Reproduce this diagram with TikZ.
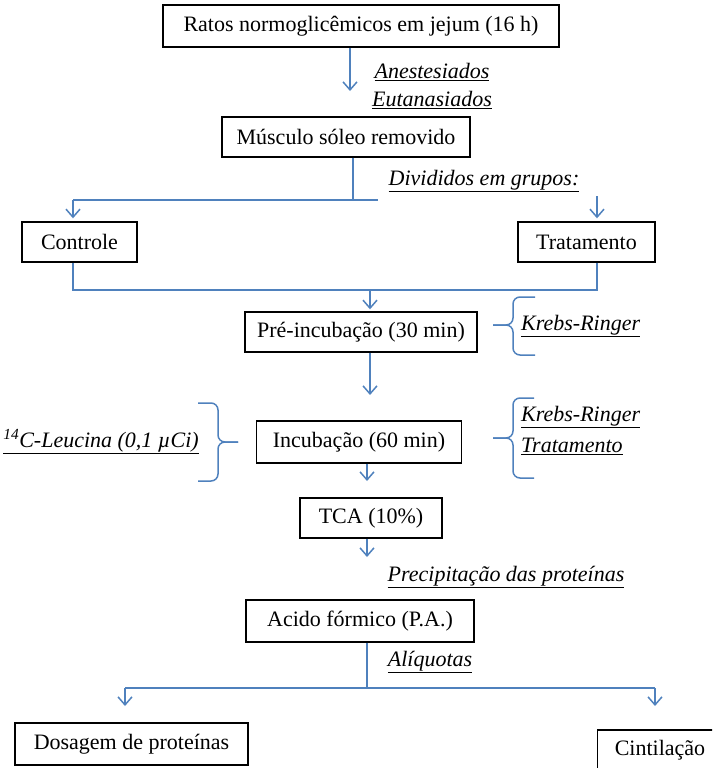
\documentclass[tikz,border=0pt]{standalone}
\usepackage{fontspec}
\setmainfont{Liberation Serif}
\usetikzlibrary{arrows.meta}
\definecolor{flowblue}{RGB}{79,129,189}
\tikzset{
  box/.style={draw=black, line width=1.4pt, fill=white, inner sep=0pt,
    font=\fontsize{22}{26}\selectfont},
  note/.style={inner sep=1pt, font=\fontsize{22}{26}\selectfont\itshape},
  wire/.style={draw=flowblue, line width=1.5pt},
  arr/.style={wire, -{Straight Barb[length=8pt,width=14pt,line width=1.5pt]}},
  brc/.style={wire, rounded corners=7pt},
}
\newcommand{\ulbl}[1]{\underline{#1}}
\begin{document}
\begin{tikzpicture}[x=1pt,y=-1pt]
\useasboundingbox (0,0) rectangle (712,768);
\clip (0,0) rectangle (712,768);

% process boxes
\node[box, minimum width=396pt, minimum height=42pt] (ratos) at (361,26) {Ratos normoglicêmicos em jejum (16 h)};
\node[box, minimum width=248pt, minimum height=40pt] (musculo) at (346,137) {Músculo sóleo removido};
\node[box, minimum width=115pt, minimum height=40pt] (controle) at (79.5,242) {Controle};
\node[box, minimum width=137pt, minimum height=40pt] (tratamento) at (586.5,242) {Tratamento};
\node[box, minimum width=232pt, minimum height=40pt] (pre) at (361,332) {Pré-incubação (30 min)};
\node[box, minimum width=205pt, minimum height=42pt] (incub) at (359,442) {Incubação (60 min)};
\node[box, minimum width=142pt, minimum height=40pt] (tca) at (371,518) {TCA (10\%)};
\node[box, minimum width=228pt, minimum height=42pt] (acido) at (360,621) {Acido fórmico (P.A.)};
\node[box, minimum width=233pt, minimum height=42pt] (dosagem) at (131.5,744) {Dosagem de proteínas};
\node[box, minimum width=125pt, minimum height=40pt] (cintil) at (660,750) {Cintilação};

% side notes
\node[note] (anest) at (432,72) {\ulbl{Anestesiados}};
\node[note] (eutan) at (432,100) {\ulbl{Eutanasiados}};
\node[note] (divid) at (484,181) {\ulbl{Divididos em grupos:}};
\node[note, anchor=west] (kr1) at (520,326) {\ulbl{Krebs-Ringer}};
\node[note, anchor=west] (kr2) at (520,417) {\ulbl{Krebs-Ringer}};
\node[note, anchor=west] (trat2) at (520,446) {\ulbl{Tratamento}};
\node[note, anchor=east] (leuc) at (200,442) {\ulbl{\textsuperscript{14}C-Leucina (0,1 µCi)}};
\node[note] (precip) at (506,577) {\ulbl{Precipitação das proteínas}};
\node[note] (aliq) at (430,662) {\ulbl{Alíquotas}};

% connectors
\coordinate (a1) at (350,91);
\draw[arr] (ratos.south -| a1) -- (a1);

\coordinate (split) at (353,200);
\coordinate (splitend) at (378,200);
\coordinate (c1) at (73,200);
\draw[wire] (musculo.south -| split) -- (split);
\draw[wire] (c1) -- (splitend);
\draw[arr, shorten >=3pt] (c1) -- (controle.north -| c1);
\coordinate (t1) at (597,196);
\draw[arr, shorten >=3pt] (t1) -- (tratamento.north -| t1);

\coordinate (join) at (370,290);
\draw[wire] (controle.south -| c1) |- (join);
\draw[wire] (tratamento.south -| t1) |- (join);
\draw[arr, shorten >=2pt] (join) -- (pre.north -| join);

\coordinate (a2) at (370,395);
\draw[arr] (pre.south -| a2) -- (a2);
\coordinate (a3) at (367,481);
\draw[arr] (incub.south -| a3) -- (a3);
\coordinate (a4) at (367,557);
\draw[arr] (tca.south -| a4) -- (a4);

\coordinate (fork) at (367,688);
\coordinate (d1) at (125,688);
\coordinate (d2) at (655,688);
\draw[wire] (acido.south -| fork) -- (fork);
\draw[wire] (d1) -- (d2);
\draw[arr] (d1) -- (125,706);
\draw[arr] (d2) -- (655,706);

% braces (two halves each, meeting at the tip)
\draw[brc] (535,297) -- (513,297) -- (513,325) -- (493,325);
\draw[brc] (493,325) -- (513,325) -- (513,355) -- (535,355);
\draw[brc] (198,403) -- (218,403) -- (218,442) -- (238,442);
\draw[brc] (238,442) -- (218,442) -- (218,481) -- (198,481);
\draw[brc] (534,398) -- (513,398) -- (513,438) -- (493,438);
\draw[brc] (493,438) -- (513,438) -- (513,478) -- (534,478);
\end{tikzpicture}
\end{document}
